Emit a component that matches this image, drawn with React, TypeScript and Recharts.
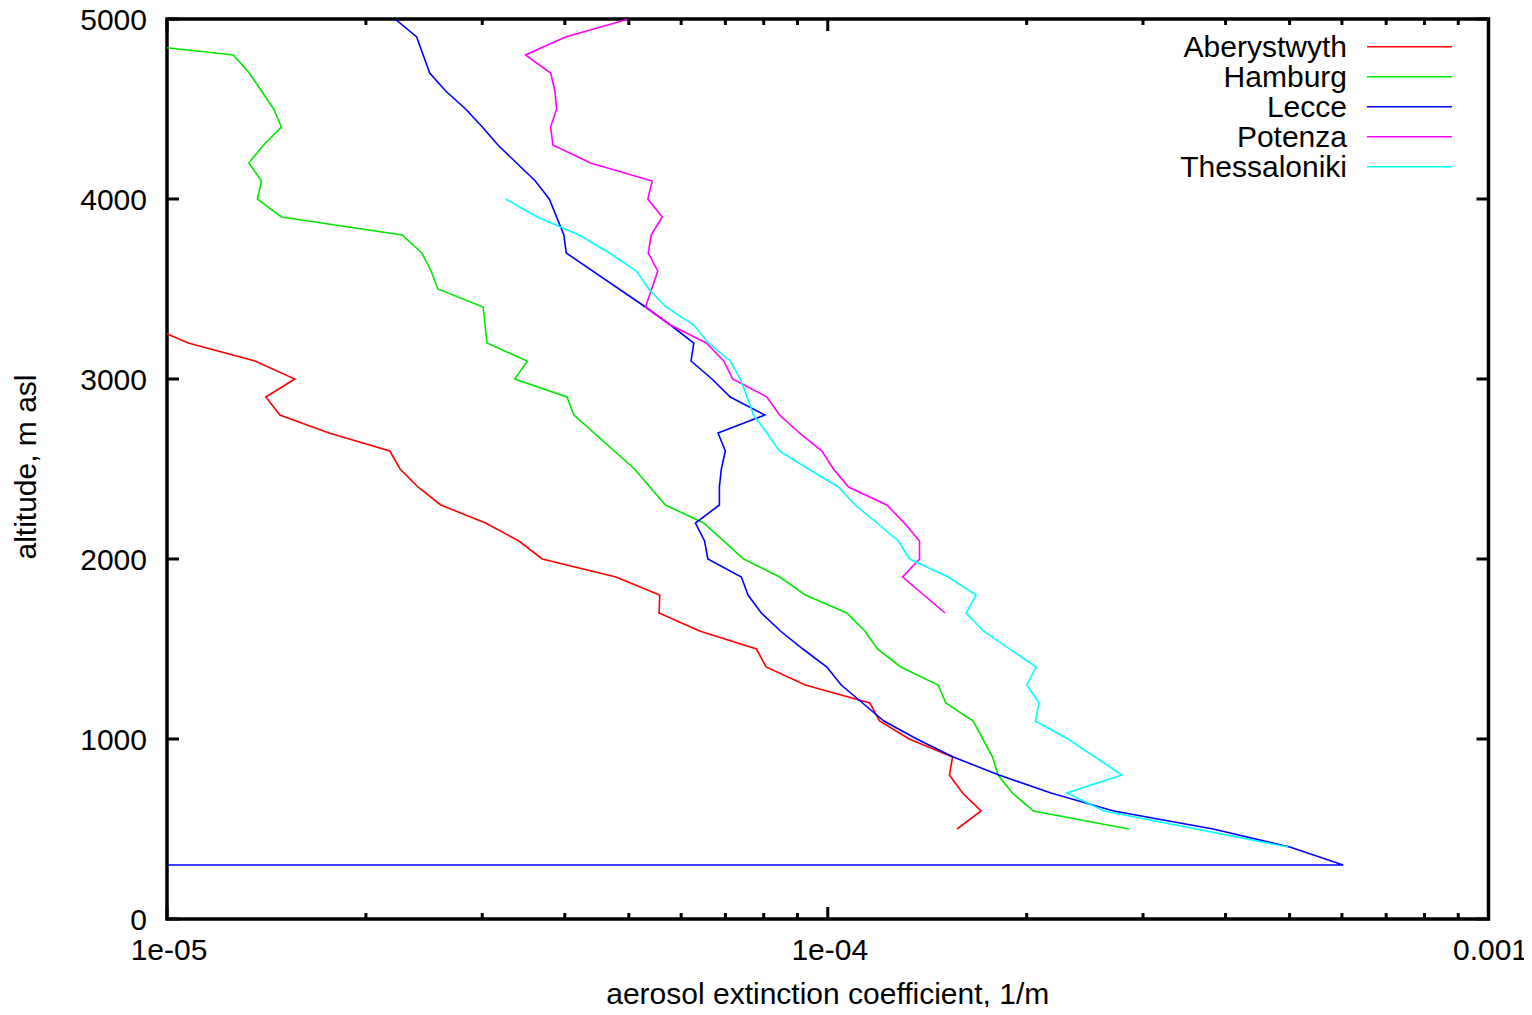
import { Legend, Line, LineChart, ReferenceArea, XAxis, YAxis } from "recharts";

const FONT = '"Liberation Sans", Arial, Helvetica, sans-serif';

// the chart covers the whole window, the plot frame sits inside it
const CHART_W = 1532;
const CHART_H = 1015;
const PLOT_LEFT = 167;
const PLOT_RIGHT = 1488.5;
const PLOT_TOP = 19;
const PLOT_BOTTOM = 919;

//
// axis ticks
//
const xMajorTicks = [1e-5, 1e-4, 1e-3];
const xMajorLabels = ["1e-05", "1e-04", "0.001"];
const xMinorTicks = [
  2e-5, 3e-5, 4e-5, 5e-5, 6e-5, 7e-5, 8e-5, 9e-5,
  2e-4, 3e-4, 4e-4, 5e-4, 6e-4, 7e-4, 8e-4, 9e-4,
];
const yTicks = [0, 1000, 2000, 3000, 4000, 5000];

//
// series
//
const seriesNames = ["Aberystwyth", "Hamburg", "Lecce", "Potenza", "Thessaloniki"];
const seriesColors = ["#ff0000", "#00e600", "#0000ff", "#ff00ff", "#00ffff"];

const aberystwythAlt = [
  3300, 3200, 3100, 3000, 2900, 2800, 2700, 2600, 2500, 2400, 2300, 2200, 2100,
  2000, 1900, 1800, 1700, 1600, 1500, 1400, 1300, 1200, 1100, 1000, 900, 800,
  700, 600, 500,
];
const aberystwythExt = [
  9.3e-6, 1.077e-5, 1.359e-5, 1.561e-5, 1.411e-5, 1.482e-5, 1.759e-5, 2.174e-5,
  2.253e-5, 2.398e-5, 2.596e-5, 3.035e-5, 3.409e-5, 3.698e-5, 4.78e-5, 5.568e-5,
  5.556e-5, 6.4e-5, 7.8e-5, 8.066e-5, 9.25e-5, 1.158e-4, 1.198e-4, 1.328e-4,
  1.545e-4, 1.528e-4, 1.6e-4, 1.706e-4, 1.57e-4,
];

const hamburgAlt = [
  4900, 4800, 4700, 4500, 4400, 4300, 4200, 4100, 4000, 3900, 3800, 3700, 3600,
  3500, 3400, 3200, 3100, 3000, 2900, 2800, 2500, 2300, 2200, 2000, 1900, 1800,
  1700, 1600, 1500, 1400, 1300, 1200, 1100, 900, 800, 700, 600, 500,
];
const hamburgExt = [
  7.06e-6, 1.26e-5, 1.332e-5, 1.45e-5, 1.49e-5, 1.4e-5, 1.33e-5, 1.39e-5,
  1.37e-5, 1.49e-5, 2.27e-5, 2.43e-5, 2.51e-5, 2.57e-5, 3.01e-5, 3.05e-5,
  3.51e-5, 3.36e-5, 4.03e-5, 4.13e-5, 5.1e-5, 5.68e-5, 6.49e-5, 7.46e-5,
  8.46e-5, 9.25e-5, 1.069e-4, 1.138e-4, 1.189e-4, 1.29e-4, 1.469e-4, 1.509e-4,
  1.66e-4, 1.776e-4, 1.81e-4, 1.903e-4, 2.048e-4, 2.857e-4,
];

const lecceAlt = [
  5000, 4900, 4700, 4600, 4500, 4400, 4300, 4200, 4100, 4000, 3800, 3700, 3400,
  3300, 3200, 3100, 3000, 2900, 2800, 2700, 2600, 2500, 2400, 2300, 2200, 2100,
  2000, 1900, 1800, 1700, 1600, 1500, 1400, 1300, 1200, 1100, 1000, 900, 800,
  700, 600, 500, 400, 300, 300,
];
const lecceExt = [
  2.214e-5, 2.387e-5, 2.498e-5, 2.641e-5, 2.831e-5, 3.001e-5, 3.168e-5,
  3.381e-5, 3.609e-5, 3.789e-5, 3.987e-5, 4.02e-5, 5.298e-5, 5.779e-5, 6.27e-5,
  6.21e-5, 6.68e-5, 7.12e-5, 8.03e-5, 6.823e-5, 6.998e-5, 6.902e-5, 6.855e-5,
  6.855e-5, 6.306e-5, 6.51e-5, 6.585e-5, 7.4e-5, 7.575e-5, 7.934e-5, 8.48e-5,
  9.17e-5, 9.97e-5, 1.048e-4, 1.129e-4, 1.216e-4, 1.364e-4, 1.549e-4,
  1.816e-4, 2.177e-4, 2.709e-4, 3.83e-4, 5.003e-4, 6.026e-4, 1e-7,
];

const potenzaAlt = [
  5000, 4900, 4800, 4700, 4600, 4500, 4400, 4300, 4200, 4100, 4000, 3900, 3800,
  3700, 3600, 3400, 3300, 3200, 3100, 3000, 2900, 2800, 2700, 2600, 2500, 2400,
  2300, 2200, 2100, 2000, 1900, 1700,
];
const potenzaExt = [
  5.0e-5, 4.01e-5, 3.488e-5, 3.807e-5, 3.864e-5, 3.887e-5, 3.807e-5, 3.837e-5,
  4.375e-5, 5.424e-5, 5.342e-5, 5.616e-5, 5.405e-5, 5.35e-5, 5.53e-5, 5.3e-5,
  5.78e-5, 6.55e-5, 6.96e-5, 7.18e-5, 8.09e-5, 8.455e-5, 9.06e-5, 9.8e-5,
  1.02e-4, 1.075e-4, 1.229e-4, 1.306e-4, 1.377e-4, 1.377e-4, 1.298e-4,
  1.505e-4,
];

const thessalonikiAlt = [
  4000, 3900, 3800, 3700, 3600, 3500, 3400, 3300, 3200, 3100, 3000, 2900, 2800,
  2700, 2600, 2500, 2400, 2300, 2200, 2100, 2000, 1900, 1800, 1700, 1600, 1400,
  1300, 1200, 1100, 1000, 900, 800, 700, 600, 400,
];
const thessalonikiExt = [
  3.254e-5, 3.634e-5, 4.204e-5, 4.674e-5, 5.131e-5, 5.36e-5, 5.69e-5, 6.27e-5,
  6.6e-5, 7.12e-5, 7.375e-5, 7.55e-5, 7.72e-5, 8.09e-5, 8.45e-5, 9.35e-5,
  1.038e-4, 1.1e-4, 1.187e-4, 1.279e-4, 1.33e-4, 1.522e-4, 1.677e-4, 1.62e-4,
  1.72e-4, 2.067e-4, 2.001e-4, 2.088e-4, 2.062e-4, 2.31e-4, 2.538e-4,
  2.787e-4, 2.3e-4, 2.62e-4, 4.97e-4,
];

const toPoints = (alt: number[], ext: number[]) =>
  alt.map((a, i) => ({ ext: ext[i], alt: a }));

const seriesData = [
  toPoints(aberystwythAlt, aberystwythExt),
  toPoints(hamburgAlt, hamburgExt),
  toPoints(lecceAlt, lecceExt),
  toPoints(potenzaAlt, potenzaExt),
  toPoints(thessalonikiAlt, thessalonikiExt),
];

const textStyle = {
  fontFamily: FONT,
  fontSize: 30,
  fill: "#000",
};

// ticks point inwards, on both sides of the frame
function XTick(props: any) {
  const { x, payload } = props;
  const i = xMajorTicks.indexOf(payload.value);
  const len = i >= 0 ? 12 : 6;

  return (
    <g>
      <line x1={x} x2={x} y1={PLOT_BOTTOM} y2={PLOT_BOTTOM - len} stroke="#000" strokeWidth={3} />
      <line x1={x} x2={x} y1={PLOT_TOP} y2={PLOT_TOP + len} stroke="#000" strokeWidth={3} />
      {i >= 0 && (
        <text x={x + 2} y={PLOT_BOTTOM + 41} textAnchor="middle" style={textStyle}>
          {xMajorLabels[i]}
        </text>
      )}
    </g>
  );
}

function YTick(props: any) {
  const { y, payload } = props;

  return (
    <g>
      <line x1={PLOT_LEFT} x2={PLOT_LEFT + 12} y1={y} y2={y} stroke="#000" strokeWidth={3} />
      <line x1={PLOT_RIGHT} x2={PLOT_RIGHT - 12} y1={y} y2={y} stroke="#000" strokeWidth={3} />
      <text x={PLOT_LEFT - 20} y={y + 10.5} textAnchor="end" style={textStyle}>
        {payload.value}
      </text>
    </g>
  );
}

function LegendBox() {
  return (
    <svg width={380} height={160}>
      {seriesNames.map((name, i) => (
        <g key={name}>
          <text x={247} y={16.7 + 30 * i + 10.5} textAnchor="end" style={textStyle}>
            {name}
          </text>
          <line
            x1={267}
            x2={352}
            y1={16.7 + 30 * i}
            y2={16.7 + 30 * i}
            stroke={seriesColors[i]}
            strokeWidth={1.6}
          />
        </g>
      ))}
    </svg>
  );
}

export default function App() {
  return (
    <div
      style={{
        width: CHART_W,
        height: CHART_H,
        margin: -8,
        background: "#fff",
      }}
    >
      <LineChart
        width={CHART_W}
        height={CHART_H}
        margin={{
          top: PLOT_TOP,
          right: CHART_W - PLOT_RIGHT,
          bottom: CHART_H - PLOT_BOTTOM - 60,
          left: PLOT_LEFT - 100,
        }}
      >
        <XAxis
          dataKey="ext"
          type="number"
          scale="log"
          domain={[1e-5, 1e-3]}
          allowDataOverflow
          ticks={[...xMajorTicks, ...xMinorTicks]}
          interval={0}
          height={60}
          axisLine={false}
          tickLine={false}
          tick={XTick}
          label={() => (
            <text
              x={(PLOT_LEFT + PLOT_RIGHT) / 2}
              y={1004}
              textAnchor="middle"
              style={textStyle}
            >
              aerosol extinction coefficient, 1/m
            </text>
          )}
        />

        <YAxis
          dataKey="alt"
          type="number"
          domain={[0, 5000]}
          allowDataOverflow
          ticks={yTicks}
          interval={0}
          width={100}
          axisLine={false}
          tickLine={false}
          tick={YTick}
          label={() => (
            <text
              x={36}
              y={467}
              textAnchor="middle"
              transform="rotate(-90 36 467)"
              style={textStyle}
            >
              altitude, m asl
            </text>
          )}
        />

        {seriesData.map((data, i) => (
          <Line
            key={seriesNames[i]}
            data={data}
            dataKey="alt"
            name={seriesNames[i]}
            stroke={seriesColors[i]}
            strokeWidth={1.6}
            dot={false}
            activeDot={false}
            isAnimationActive={false}
          />
        ))}

        <ReferenceArea
          x1={1e-5}
          x2={1e-3}
          y1={0}
          y2={5000}
          fill="none"
          fillOpacity={0}
          stroke="#000"
          strokeWidth={3.5}
          strokeOpacity={1}
        />

        <Legend
          layout="vertical"
          align="center"
          verticalAlign="middle"
          content={LegendBox}
          wrapperStyle={{ left: 1100, top: 30, width: 380, height: 160 }}
        />
      </LineChart>
    </div>
  );
}
